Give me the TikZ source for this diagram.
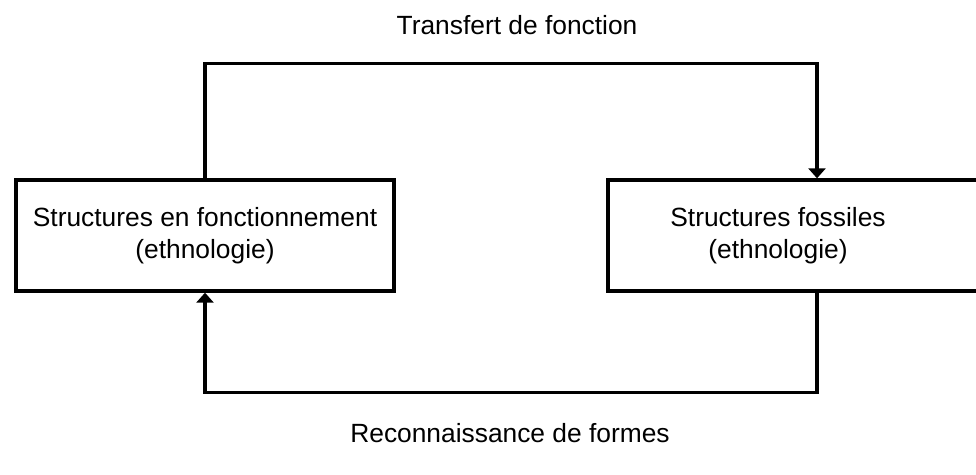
\documentclass[tikz,border=0pt]{standalone}
\usepackage{fontspec}
\setmainfont{Liberation Sans}
\usetikzlibrary{arrows.meta}

\tikzset{
  cadre/.style={draw, line width=1.9pt, minimum height=2.22cm, align=center, inner sep=0pt},
  lien/.style={line width=1.9pt},
  fleche/.style={lien, -{Triangle[width=0.34cm, length=0.2cm]}},
  etiquette/.style={align=center, font=\fontsize{15}{18.2}\selectfont}
}

\begin{document}
\begin{tikzpicture}[x=0.02cm, y=-0.02cm]
			\useasboundingbox (0,0) rectangle (976,474);
			%\draw[help lines] (0,0) grid[step=50] (976,474);

			\node[cadre, etiquette, minimum width=7.56cm] (fonct) at (205,235.5) {Structures en fonctionnement\\(ethnologie)};
			\node[cadre, minimum width=8.36cm] (fossile) at (817,235.5) {};
			\node[etiquette] (fossiletxt) at (778,235.5) {Structures fossiles\\(ethnologie)};

			\draw[fleche] (fonct.north) -- ++(0,-115) -| (fossile.north);
			\draw[fleche] (fossile.south) -- ++(0,100) -| (fonct.south);

			\node[etiquette] (transfert) at (517,25) {Transfert de fonction};
			\node[etiquette] (reconn) at (510,433) {Reconnaissance de formes};
		\end{tikzpicture}
\end{document}
